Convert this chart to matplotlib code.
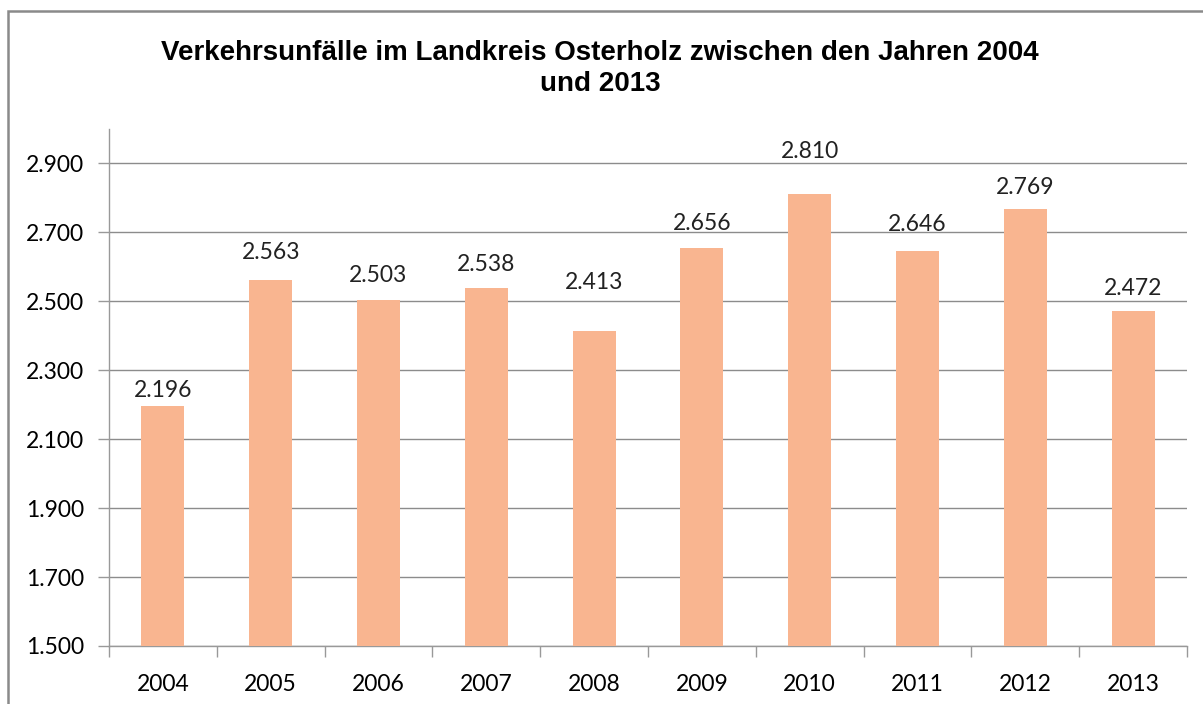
import matplotlib.pyplot as plt
from matplotlib.patches import Rectangle

# data
years = ["2004", "2005", "2006", "2007", "2008", "2009", "2010", "2011", "2012", "2013"]
unfaelle = [2196, 2563, 2503, 2538, 2413, 2656, 2810, 2646, 2769, 2472]
y_ticks = [1500, 1700, 1900, 2100, 2300, 2500, 2700, 2900]

# label gap above bar top (pixels), labels were not placed evenly in the original
label_gap = [9, 21, 18, 17, 42, 18, 36, 20, 15, 16]


def fmt(v):
    # german thousands separator
    return f"{v:,}".replace(",", ".")


fig = plt.figure(figsize=(12.03, 7.04), dpi=100)
ax = fig.add_axes([0.0906, 0.0824, 0.8961, 0.7344])

x = list(range(len(years)))
ax.bar(x, [v - 1500 for v in unfaelle], bottom=1500, width=0.4, color="#F9B590", zorder=3)
for xi, v, g in zip(x, unfaelle, label_gap):
    ax.annotate(fmt(v), (xi, v), xytext=(0, g), textcoords="offset pixels",
                ha="center", va="baseline", fontsize=16.5, family="Lato", color="#222222")

ax.set_xlim(-0.5, len(years) - 0.5)
ax.set_ylim(1500, 3000)
ax.set_yticks(y_ticks)
ax.set_yticklabels([fmt(t) for t in y_ticks], fontsize=16.5, family="Lato")
ax.set_xticks(x)
ax.set_xticklabels(years, fontsize=16.5, family="Lato")
ax.set_xticks([i - 0.5 for i in range(len(years) + 1)], minor=True)
ax.tick_params(axis="x", which="major", length=0, pad=20)
ax.tick_params(axis="x", which="minor", length=8, color="#999999", width=1)
ax.tick_params(axis="y", length=8, color="#999999", width=1, pad=10)

ax.yaxis.grid(True, color="#8c8c8c", linewidth=1)
ax.set_axisbelow(True)
for s in ["top", "right"]:
    ax.spines[s].set_visible(False)
for s in ["left", "bottom"]:
    ax.spines[s].set_color("#999999")
    ax.spines[s].set_linewidth(1)

fig.text(0.499, 0.903, "Verkehrsunfälle im Landkreis Osterholz zwischen den Jahren 2004\nund 2013",
         ha="center", va="center", fontsize=20, fontweight="bold", family="Liberation Sans",
         linespacing=1.25)

# chart border (cut at right and bottom)
fig.patches.append(Rectangle((8 / 1203, -0.2), 1.2, (704 - 11) / 704 + 0.2,
                             transform=fig.transFigure, fill=False, edgecolor="#8a8a8a", linewidth=1.8))

fig.savefig("out.png", dpi=100)
